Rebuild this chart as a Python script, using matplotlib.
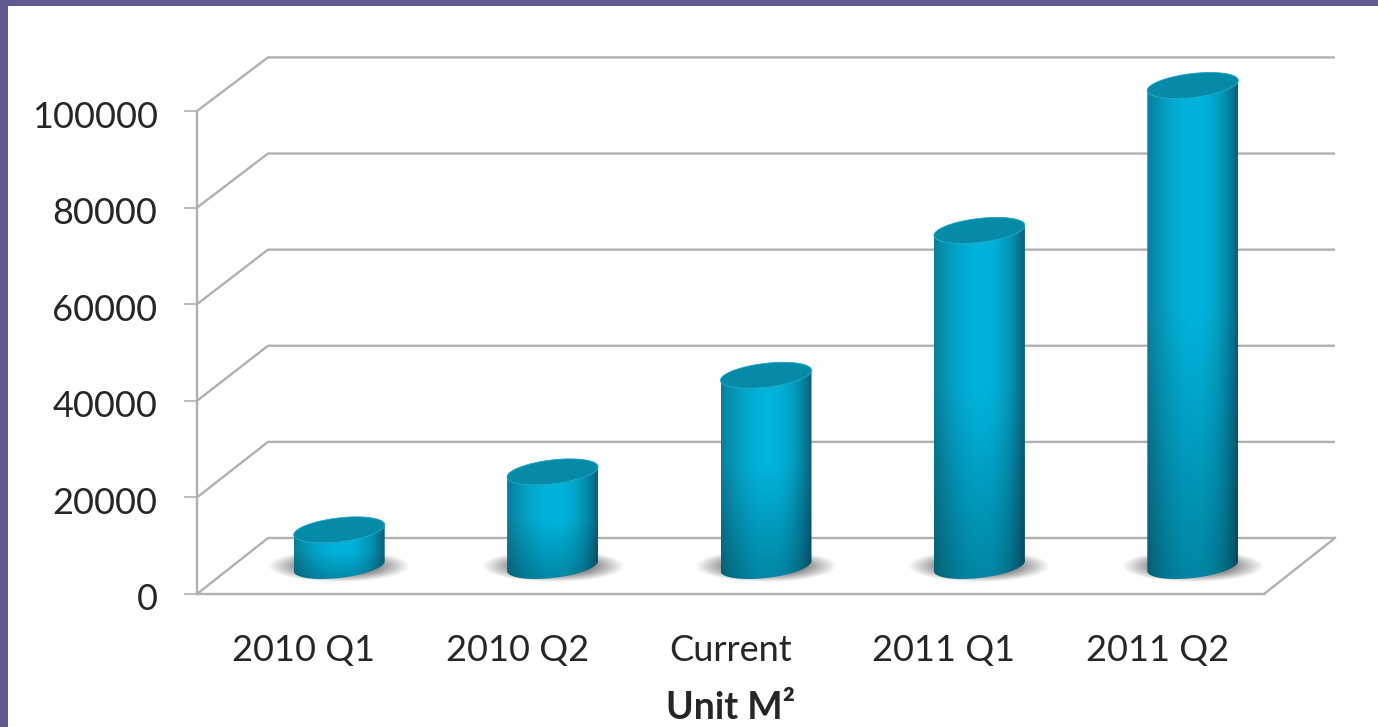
import numpy as np
import matplotlib
matplotlib.use("Agg")
import matplotlib.pyplot as plt
from matplotlib.patches import Rectangle, Polygon
from matplotlib.transforms import Affine2D
from matplotlib.colors import to_rgb

plt.rcParams['font.family'] = ['Lato', 'DejaVu Sans']

categories = ["2010 Q1", "2010 Q2", "Current", "2011 Q1", "2011 Q2"]
values = [8000, 20000, 40000, 70000, 100000]
y_ticks = [0, 20000, 40000, 60000, 80000, 100000]
x_label = "Unit M\u00b2"

W, H = 1378, 727
LEFT, RIGHT, TOP, BOTTOM = 197, 1264, 111, 594
GRID = "#b0b0b0"
BORDER = "#5f5b92"
TEXT = "#262626"

fig = plt.figure(figsize=(W / 100, H / 100), dpi=100, facecolor="white")
fig.add_artist(Rectangle((0, 0), 8 / W, 1, transform=fig.transFigure, color=BORDER, lw=0))
fig.add_artist(Rectangle((0, 1 - 6 / H), 1, 6 / H, transform=fig.transFigure, color=BORDER, lw=0))

ax = fig.add_axes([LEFT / W, 1 - BOTTOM / H, (RIGHT - LEFT) / W, (BOTTOM - TOP) / H])
ax.patch.set_alpha(0)

# pixel sizes to data units
px_x = len(categories) / (RIGHT - LEFT)
px_y = max(y_ticks) / (BOTTOM - TOP)
depth_x = 71 * px_x
depth_y = 56 * px_y
back_scale = 0.995  # back wall is a touch shorter than the front
cap_drop = 2.5 * px_y  # bar tops sit slightly under the mid depth level

# back wall and floor
for v in y_ticks:
    back = v * back_scale + depth_y
    ax.plot([0, depth_x, len(categories) + depth_x], [v, back, back],
            color=GRID, lw=1.7, clip_on=False, zorder=1, solid_capstyle="butt")
ax.plot([len(categories), len(categories) + depth_x], [0, depth_y],
        color=GRID, lw=1.7, clip_on=False, zorder=1)

# cylinder size
a = 45.5 * px_x
b = 12 * px_y
shear = 5 * px_y

def ellipse(cx, cy, t):
    return np.column_stack([cx + a * np.cos(t), cy + b * np.sin(t) + shear * np.cos(t)])

# horizontal shading of the cylinder
u = np.linspace(0, 1, 200)
bright = np.array(to_rgb("#00b4dc"))
dark_l = np.array(to_rgb("#0a7d98"))
dark_r = np.array(to_rgb("#0a5f78"))
side = np.where(u < 0.5, ((0.5 - u) / 0.5) ** 1.8, 0)[:, None]
side_r = np.where(u >= 0.5, ((u - 0.5) / 0.5) ** 2.4, 0)[:, None]
row = bright * (1 - side - side_r) + dark_l * side + dark_r * side_r

for i, v in enumerate(values):
    cx = i + 0.5 + depth_x / 2
    y0 = depth_y / 2
    y1 = v + depth_y / 2 - cap_drop

    # soft shadow on the floor
    sx = np.linspace(cx - 72 * px_x, cx + 72 * px_x, 200)
    sy = np.linspace(y0 - 18 * px_y, y0 + 18 * px_y, 60)
    gx, gy = np.meshgrid(sx, sy)
    r = np.sqrt(((gx - cx) / (68 * px_x)) ** 2 + ((gy - y0) / (15.5 * px_y)) ** 2)
    shadow = np.zeros(r.shape + (4,))
    shadow[..., :3] = 0.3
    shadow[..., 3] = 0.7 * np.clip((1.05 - r) / 0.5, 0, 1)
    sh = ax.imshow(shadow, extent=[sx[0], sx[-1], sy[0], sy[-1]], origin="lower", aspect="auto",
                   zorder=2)
    sh.set_clip_on(False)

    # body: lower edge of the bottom, then lower edge of the top going back
    low = np.linspace(np.pi, 2 * np.pi, 50)
    pts = np.vstack([ellipse(cx, y0, low), ellipse(cx, y1, low[::-1])])
    body = Polygon(pts, closed=True, fc="none", ec="none", zorder=3, clip_on=False)
    ax.add_patch(body)

    ny = 120
    shade = np.linspace(0, 1, ny)[:, None, None]
    grad = row[None, :, :] * (0.74 + 0.26 * np.clip(shade / 0.55, 0, 1))
    img = ax.imshow(grad, extent=[cx - a, cx + a, y0 - b - shear, y1 + shear],
                    origin="lower", aspect="auto", zorder=3)
    img.set_clip_box(fig.bbox)
    img.set_clip_path(body)

    # top face
    t = np.linspace(0, 2 * np.pi, 100)
    ax.add_patch(Polygon(ellipse(cx, y1, t), closed=True, fc="#058aa8", ec="#1aa4c4",
                         lw=0.6, zorder=4, clip_on=False))

ax.set_xlim(0, len(categories))
ax.set_ylim(0, max(y_ticks))
ax.set_xticks(np.arange(len(categories)) + 0.5)
ax.set_xticklabels(categories)
ax.set_yticks(y_ticks)
ax.tick_params(axis="y", length=9.4, width=1.2, color=GRID, pad=19, labelsize=26, labelcolor=TEXT)
ax.tick_params(axis="x", length=0, pad=29, labelsize=26, labelcolor=TEXT)
for lab in ax.get_yticklabels():
    lab.set_transform(lab.get_transform() + Affine2D().translate(0, -3))
for s in ["top", "right"]:
    ax.spines[s].set_visible(False)
for s in ["left", "bottom"]:
    ax.spines[s].set_color(GRID)
    ax.spines[s].set_linewidth(1.7)
ax.set_xlabel(x_label, fontsize=27, fontweight="bold", color=TEXT, labelpad=17)

plt.savefig("out.png", dpi=100)
